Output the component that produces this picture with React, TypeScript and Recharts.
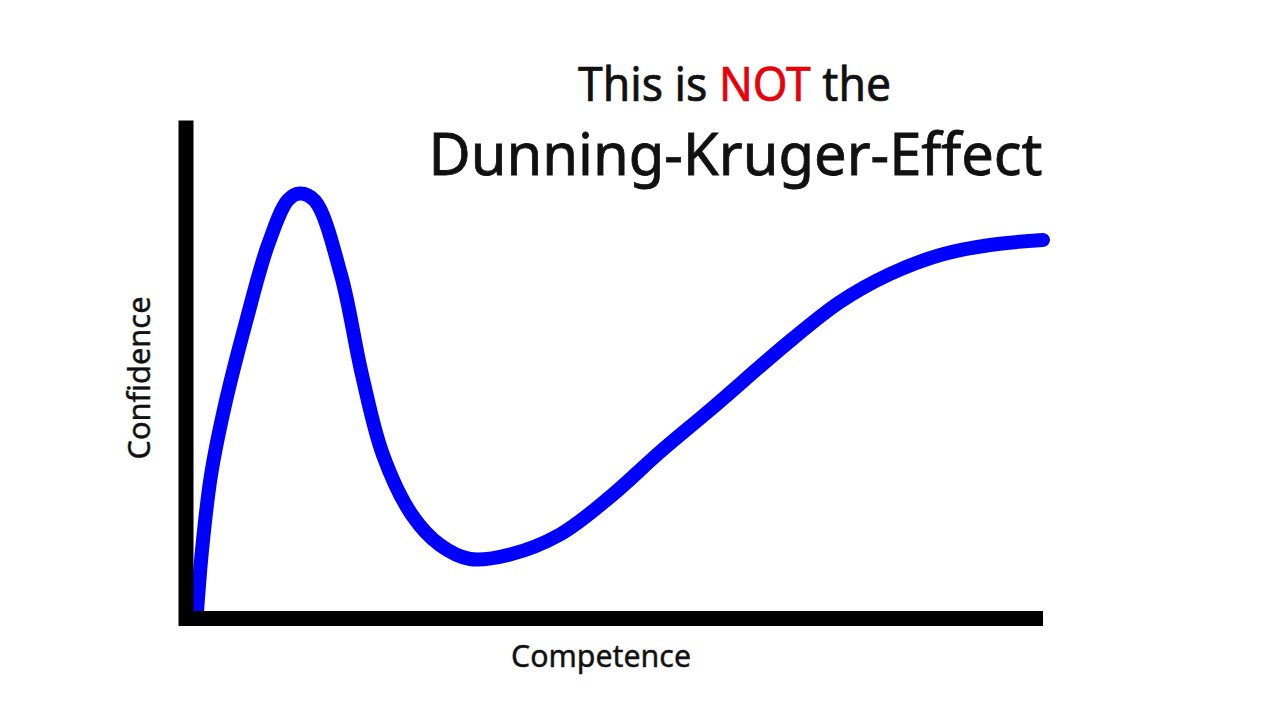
import React from 'react';
import { LineChart, Line, XAxis, YAxis, Label } from 'recharts';

// Competence (x) and Confidence (y)
const competence = [1.23, 1.87, 2.92, 4.55, 7.0, 9.57, 11.9, 13.3, 15.05, 18.09, 20.54, 22.99, 26.37, 29.64, 33.14, 37.81, 43.64, 49.47, 55.31, 61.14, 70.48, 76.31, 82.15, 88.0, 93.82, 100];
const confidence = [0, 13.97, 29.26, 43.53, 60.45, 76.15, 85.32, 86.65, 85.12, 70.03, 49.64, 33.33, 21.1, 14.98, 12.13, 13.05, 17.13, 24.77, 33.94, 42.51, 56.57, 64.53, 70.23, 74.11, 76.15, 77.17];

const titleLine1 = ['This is ', 'NOT', ' the'];
const titleLine2 = 'Dunning-Kruger-Effect';
const xLabel = 'Competence';
const yLabel = 'Confidence';

const data = competence.map((c, i) => ({ x: c, y: confidence[i] }));

const FONT = '"Noto Sans", "Open Sans", sans-serif';

// centripetal Catmull-Rom curve factory (smooth curve through every point)
function catmullRomCurve(context: any) {
  let pts: number[][] = [];
  const dist = (a: number[], b: number[]) => Math.hypot(a[0] - b[0], a[1] - b[1]);
  return {
    areaStart() {},
    areaEnd() {},
    lineStart() { pts = []; },
    point(x: number, y: number) { pts.push([+x, +y]); },
    lineEnd() {
      if (!pts.length) return;
      context.moveTo(pts[0][0], pts[0][1]);
      for (let i = 0; i < pts.length - 1; i++) {
        const p0 = pts[i - 1] || pts[i];
        const p1 = pts[i];
        const p2 = pts[i + 1];
        const p3 = pts[i + 2] || p2;
        const l01 = dist(p0, p1), l12 = dist(p1, p2), l23 = dist(p2, p3);
        const l01a = Math.sqrt(l01), l12a = Math.sqrt(l12), l23a = Math.sqrt(l23);
        let x1 = p1[0], y1 = p1[1], x2 = p2[0], y2 = p2[1];
        if (l01a > 1e-9) {
          const a = 2 * l01 + 3 * l01a * l12a + l12;
          const n = 3 * l01a * (l01a + l12a);
          x1 = (p1[0] * a - p0[0] * l12 + p2[0] * l01) / n;
          y1 = (p1[1] * a - p0[1] * l12 + p2[1] * l01) / n;
        }
        if (l23a > 1e-9) {
          const b = 2 * l23 + 3 * l23a * l12a + l12;
          const m = 3 * l23a * (l23a + l12a);
          x2 = (p2[0] * b + p1[0] * l23 - p3[0] * l12) / m;
          y2 = (p2[1] * b + p1[1] * l23 - p3[1] * l12) / m;
        }
        context.bezierCurveTo(x1, y1, x2, y2, p2[0], p2[1]);
      }
    },
  };
}

const XLabelContent = (props: any) => {
  const vb = props.viewBox || {};
  return (
    <text x={vb.x + 415} y={vb.y + 48.5} textAnchor="middle" fontFamily={FONT} fontSize={30} fill="#111"
      stroke="#111" strokeWidth={0.4} textLength={180} lengthAdjust="spacingAndGlyphs">
      {xLabel}
    </text>
  );
};

const YLabelContent = (props: any) => {
  const vb = props.viewBox || {};
  const cx = vb.x + vb.width - 36;
  const cy = 378;
  return (
    <text x={cx} y={cy} textAnchor="middle" fontFamily={FONT} fontSize={30} fill="#111"
      stroke="#111" strokeWidth={0.4}
      transform={`rotate(-90 ${cx} ${cy})`} textLength={163} lengthAdjust="spacingAndGlyphs">
      {yLabel}
    </text>
  );
};

export default function App() {
  return (
    <div style={{ position: 'absolute', left: 0, top: 0, width: 1280, height: 720, background: '#fff' }}>
      <LineChart width={1280} height={720} data={data}
        margin={{ top: 128, right: 237, bottom: 51.5, left: 126 }}>
        <XAxis dataKey="x" type="number" domain={[0, 100]} height={50} tick={false} tickLine={false}
          axisLine={{ stroke: '#000', strokeWidth: 15 }}>
          <Label content={<XLabelContent />} />
        </XAxis>
        <YAxis type="number" domain={[0, 100]} width={60} tick={false} tickLine={false}
          axisLine={{ stroke: '#000', strokeWidth: 15, strokeLinecap: 'square' }}>
          <Label content={<YLabelContent />} />
        </YAxis>
        <Line dataKey="y" type={catmullRomCurve as any} stroke="#0000ff" strokeWidth={14} dot={false}
          activeDot={false} strokeLinecap="round" strokeLinejoin="round" isAnimationActive={false} />
      </LineChart>
      <svg width={1280} height={200} style={{ position: 'absolute', left: 0, top: 0 }}>
        <text x={734.5} y={101} textAnchor="middle" fontFamily={FONT} fontSize={47} fill="#111"
          stroke="#111" strokeWidth={0.7} textLength={313} lengthAdjust="spacingAndGlyphs">
          <tspan>{titleLine1[0]}</tspan>
          <tspan fill="#e8000b" stroke="#e8000b">{titleLine1[1]}</tspan>
          <tspan>{titleLine1[2]}</tspan>
        </text>
        <text x={735.5} y={175} textAnchor="middle" fontFamily={FONT} fontSize={58} fill="#111"
          stroke="#111" strokeWidth={0.8} textLength={614} lengthAdjust="spacingAndGlyphs">
          {titleLine2}
        </text>
      </svg>
    </div>
  );
}
